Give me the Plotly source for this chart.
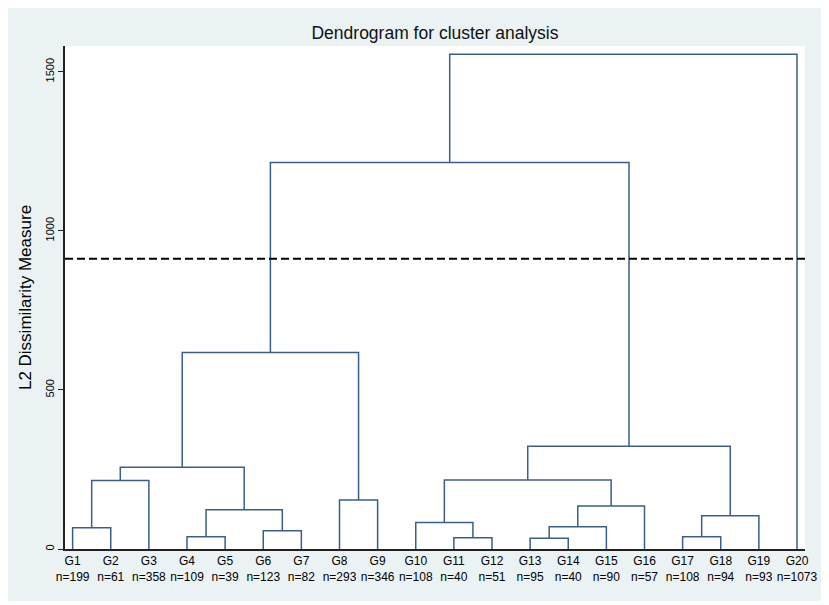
import plotly.graph_objects as go

# leaves, left to right
groups = ["G1", "G2", "G3", "G4", "G5", "G6", "G7", "G8", "G9", "G10",
          "G11", "G12", "G13", "G14", "G15", "G16", "G17", "G18", "G19", "G20"]
sizes = [199, 61, 358, 109, 39, 123, 82, 293, 346, 108,
         40, 51, 95, 40, 90, 57, 108, 94, 93, 1073]

# merges: ids 0-19 are leaves, merge k creates cluster 20+k
merge_left = [0, 3, 5, 21, 20, 24, 7, 25, 10, 9, 12, 30, 31, 29, 16, 34, 33, 27, 37]
merge_right = [1, 4, 6, 22, 2, 23, 8, 26, 11, 28, 13, 14, 15, 32, 17, 18, 35, 36, 19]
merge_height = [67, 38.7, 57, 123, 215, 257, 154, 618, 35.6, 83.6,
                33.5, 70, 135, 216.5, 38.7, 104.6, 323, 1215, 1555]

cut_height = 912

n = len(groups)
pos = {i: i + 1 for i in range(n)}
hgt = {i: 0 for i in range(n)}
xs, ys = [], []
for k, (a, b, h) in enumerate(zip(merge_left, merge_right, merge_height)):
    xs += [pos[a], pos[a], pos[b], pos[b], None]
    ys += [hgt[a], h, h, hgt[b], None]
    pos[n + k] = (pos[a] + pos[b]) / 2
    hgt[n + k] = h

fig = go.Figure()
fig.add_trace(go.Scatter(
    x=xs, y=ys, mode="lines",
    line=dict(color="#3b5e88", width=1.5),
    hoverinfo="skip", showlegend=False,
))

fig.add_shape(type="line", xref="paper", yref="y", x0=0, x1=1,
              y0=cut_height, y1=cut_height,
              line=dict(color="black", width=2, dash="8px,4px"))

# light frame, plot area white on top (page body adds an 8px offset)
fig.add_shape(type="rect", xref="paper", yref="paper", layer="below",
              x0=-57 / 740, x1=759 / 740, y0=-52 / 503, y1=546 / 503,
              fillcolor="#eaf2f3", line=dict(width=0))
fig.add_shape(type="rect", xref="paper", yref="paper", layer="below",
              x0=0, x1=1, y0=0, y1=1,
              fillcolor="white", line=dict(width=0))

fig.update_layout(
    width=821, height=597,
    margin=dict(l=57, r=24, t=38, b=56),
    paper_bgcolor="white", plot_bgcolor="white",
    font=dict(family="Liberation Sans, Arial, sans-serif", color="black"),
    title=dict(text="Dendrogram for cluster analysis", x=427 / 821, xanchor="center",
               y=1 - 25 / 597, yanchor="middle", yref="container",
               font=dict(size=17.5, color="#111")),
)

fig.update_xaxes(
    range=[0.8, 20.21],
    tickvals=list(range(1, n + 1)),
    ticktext=[f"{g}<br>n={s}" for g, s in zip(groups, sizes)],
    tickfont=dict(size=12),
    showgrid=False, zeroline=False,
    showline=True, linecolor="#222", linewidth=1.5,
    ticks="",
)
fig.update_yaxes(
    range=[0, 1581],
    tickvals=[0, 500, 1000, 1500],
    tickangle=-90,
    tickfont=dict(size=11),
    ticks="outside", ticklen=5, tickcolor="#222", tickwidth=1,
    showgrid=False, zeroline=False,
    showline=True, linecolor="#222", linewidth=1.5,
    title=dict(text="L2 Dissimilarity Measure", font=dict(size=17), standoff=8),
)

fig.write_html("out.html")
